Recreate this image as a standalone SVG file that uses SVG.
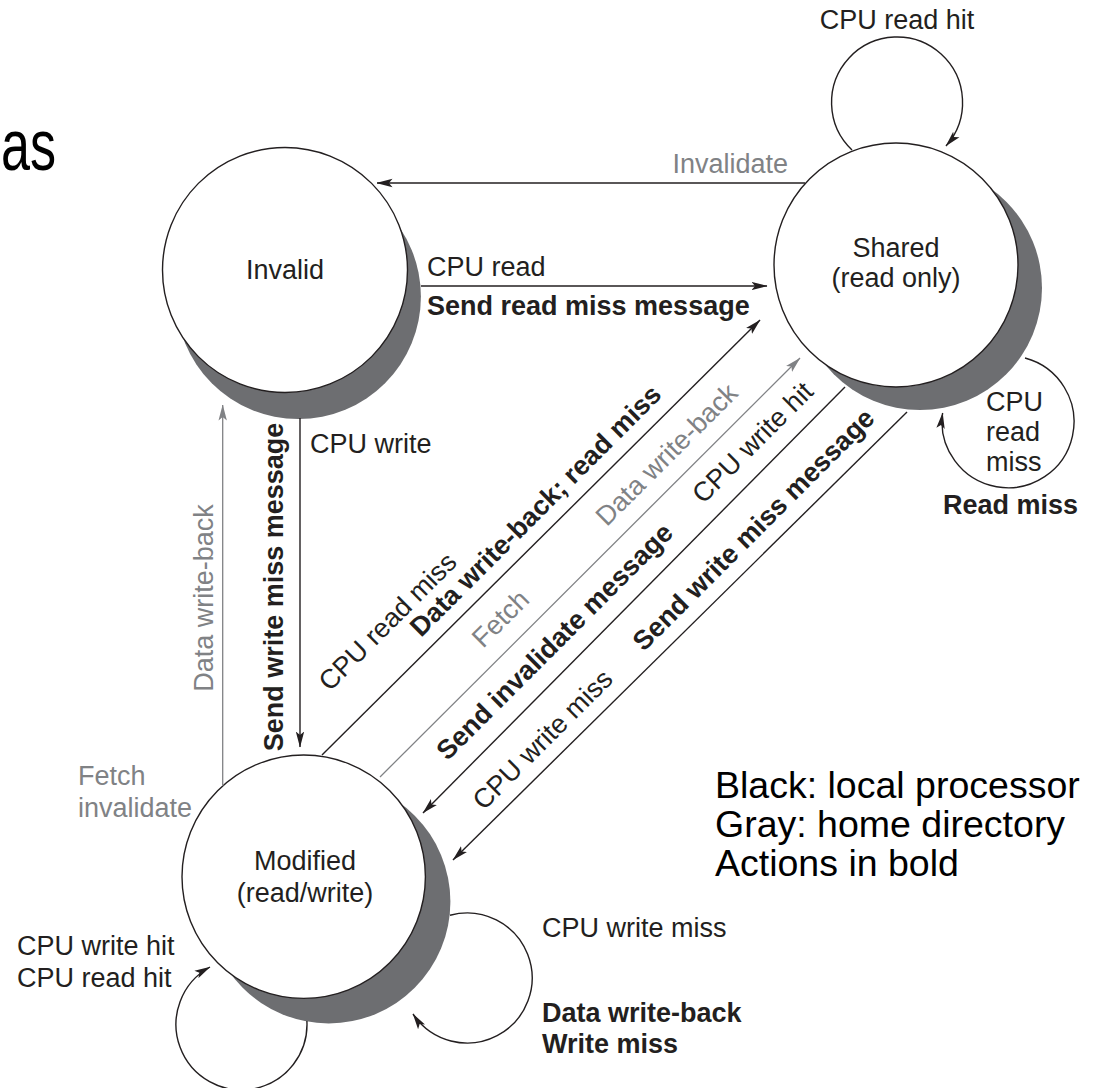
<svg xmlns="http://www.w3.org/2000/svg" width="1098" height="1088" viewBox="0 0 1098 1088">
<style>
.t{font-family:"Liberation Sans",Arial,Helvetica,sans-serif;font-size:27px;fill:#231f20}
.b{font-weight:bold}
.g{fill:#808285}
.ln{fill:none;stroke:#231f20;stroke-width:1.4}
.lg{fill:none;stroke:#808285;stroke-width:1.3}
.sh{fill:#6d6e71}
.nd{fill:#fff;stroke:#231f20;stroke-width:1.4}
.lg2{font-family:"Liberation Sans",Arial,sans-serif;font-size:37.5px;fill:#000}
</style>
<defs>
<marker id="ah" viewBox="0 0 16 10" refX="15.5" refY="5" markerWidth="16" markerHeight="10" markerUnits="userSpaceOnUse" orient="auto"><path d="M0,0.8 L16,5 L0,9.2 L3.5,5 z" fill="#231f20"/></marker>
<marker id="ahg" viewBox="0 0 16 10" refX="15.5" refY="5" markerWidth="16" markerHeight="10" markerUnits="userSpaceOnUse" orient="auto"><path d="M0,0.8 L16,5 L0,9.2 L3.5,5 z" fill="#808285"/></marker>
</defs>
<rect width="1098" height="1088" fill="#fff"/>
<text x="1" y="170" textLength="55" lengthAdjust="spacingAndGlyphs" style="font-family:'Liberation Sans',Arial,sans-serif;font-size:72px;fill:#000">as</text>

<g id="invalid">
<circle class="sh" cx="298.4" cy="296.6" r="122.5"/>
<circle class="nd" cx="285" cy="270" r="122.5"/>
<text class="t" x="285" y="279" text-anchor="middle">Invalid</text>
</g>
<g id="shared">
<circle class="sh" cx="920" cy="288" r="122"/>
<circle class="nd" cx="896" cy="265" r="122"/>
<text class="t" x="896" y="257" text-anchor="middle">Shared</text>
<text class="t" x="896" y="287" text-anchor="middle">(read only)</text>
</g>
<g id="modified">
<circle class="sh" cx="328.7" cy="901.7" r="121.7"/>
<circle class="nd" cx="303.7" cy="876.7" r="121.7"/>
<text class="t" x="305" y="870" text-anchor="middle">Modified</text>
<text class="t" x="305" y="902" text-anchor="middle">(read/write)</text>
</g>

<g id="connectors">
<line class="ln" x1="805" y1="183" x2="377" y2="183" marker-end="url(#ah)"/>
<text class="t g" x="788" y="173" text-anchor="end">Invalidate</text>

<line class="ln" x1="421" y1="286" x2="767" y2="286" marker-end="url(#ah)"/>
<text class="t" x="427" y="276">CPU read</text>
<text class="t b" x="427" y="315">Send read miss message</text>

<line class="ln" x1="300" y1="418" x2="300" y2="747" marker-end="url(#ah)"/>
<text class="t b" transform="translate(283,587) rotate(-90)" text-anchor="middle">Send write miss message</text>
<text class="t" x="310" y="453">CPU write</text>

<line class="lg" x1="222.7" y1="786" x2="222.7" y2="405" marker-end="url(#ahg)"/>
<text class="t g" transform="translate(213,598) rotate(-90)" text-anchor="middle">Data write-back</text>
<text class="t g" x="78" y="785">Fetch</text>
<text class="t g" x="78" y="817">invalidate</text>

<line class="ln" x1="322" y1="755" x2="760" y2="320" marker-end="url(#ah)"/>
<text class="t" transform="translate(394,628) rotate(-45)" text-anchor="middle">CPU read miss</text>
<text class="t b" transform="translate(542,517) rotate(-45)" text-anchor="middle">Data write-back; read miss</text>

<line class="lg" x1="380" y1="777" x2="800" y2="358" marker-end="url(#ahg)"/>
<text class="t g" transform="translate(507,625) rotate(-45)" text-anchor="middle">Fetch</text>
<text class="t g" transform="translate(673,461) rotate(-45)" text-anchor="middle">Data write-back</text>

<line class="ln" x1="845" y1="387" x2="423" y2="813" marker-end="url(#ah)"/>
<text class="t b" transform="translate(561,648) rotate(-45)" text-anchor="middle">Send invalidate message</text>
<text class="t" transform="translate(759,449) rotate(-45)" text-anchor="middle">CPU write hit</text>

<line class="ln" x1="907" y1="412" x2="453" y2="860" marker-end="url(#ah)"/>
<text class="t b" transform="translate(760,536) rotate(-45)" text-anchor="middle">Send write miss message</text>
<text class="t" transform="translate(549,746) rotate(-45)" text-anchor="middle">CPU write miss</text>

<path class="ln" d="M852 150 A65.5 65.5 0 1 1 946 146" marker-end="url(#ah)"/>
<text class="t" x="897" y="29" text-anchor="middle">CPU read hit</text>

<path class="ln" d="M1025 358 A66 66 0 1 1 942.6 413" marker-end="url(#ah)"/>
<text class="t" x="986" y="411">CPU</text>
<text class="t" x="986" y="441">read</text>
<text class="t" x="986" y="471">miss</text>
<text class="t b" x="943" y="514">Read miss</text>

<path class="ln" d="M450 915.3 A65 65 0 1 1 413 1014" marker-end="url(#ah)"/>
<text class="t" x="542" y="937">CPU write miss</text>
<text class="t b" x="542" y="1022">Data write-back</text>
<text class="t b" x="542" y="1053">Write miss</text>

<path class="ln" d="M306.9 1021 A65.5 65.5 0 1 1 210 967" marker-end="url(#ah)"/>
<text class="t" x="17" y="955">CPU write hit</text>
<text class="t" x="17" y="987">CPU read hit</text>
</g>

<g id="legend">
<text class="lg2" x="715" y="798">Black: local processor</text>
<text class="lg2" x="715" y="837">Gray: home directory</text>
<text class="lg2" x="715" y="876">Actions in bold</text>
</g>
</svg>
